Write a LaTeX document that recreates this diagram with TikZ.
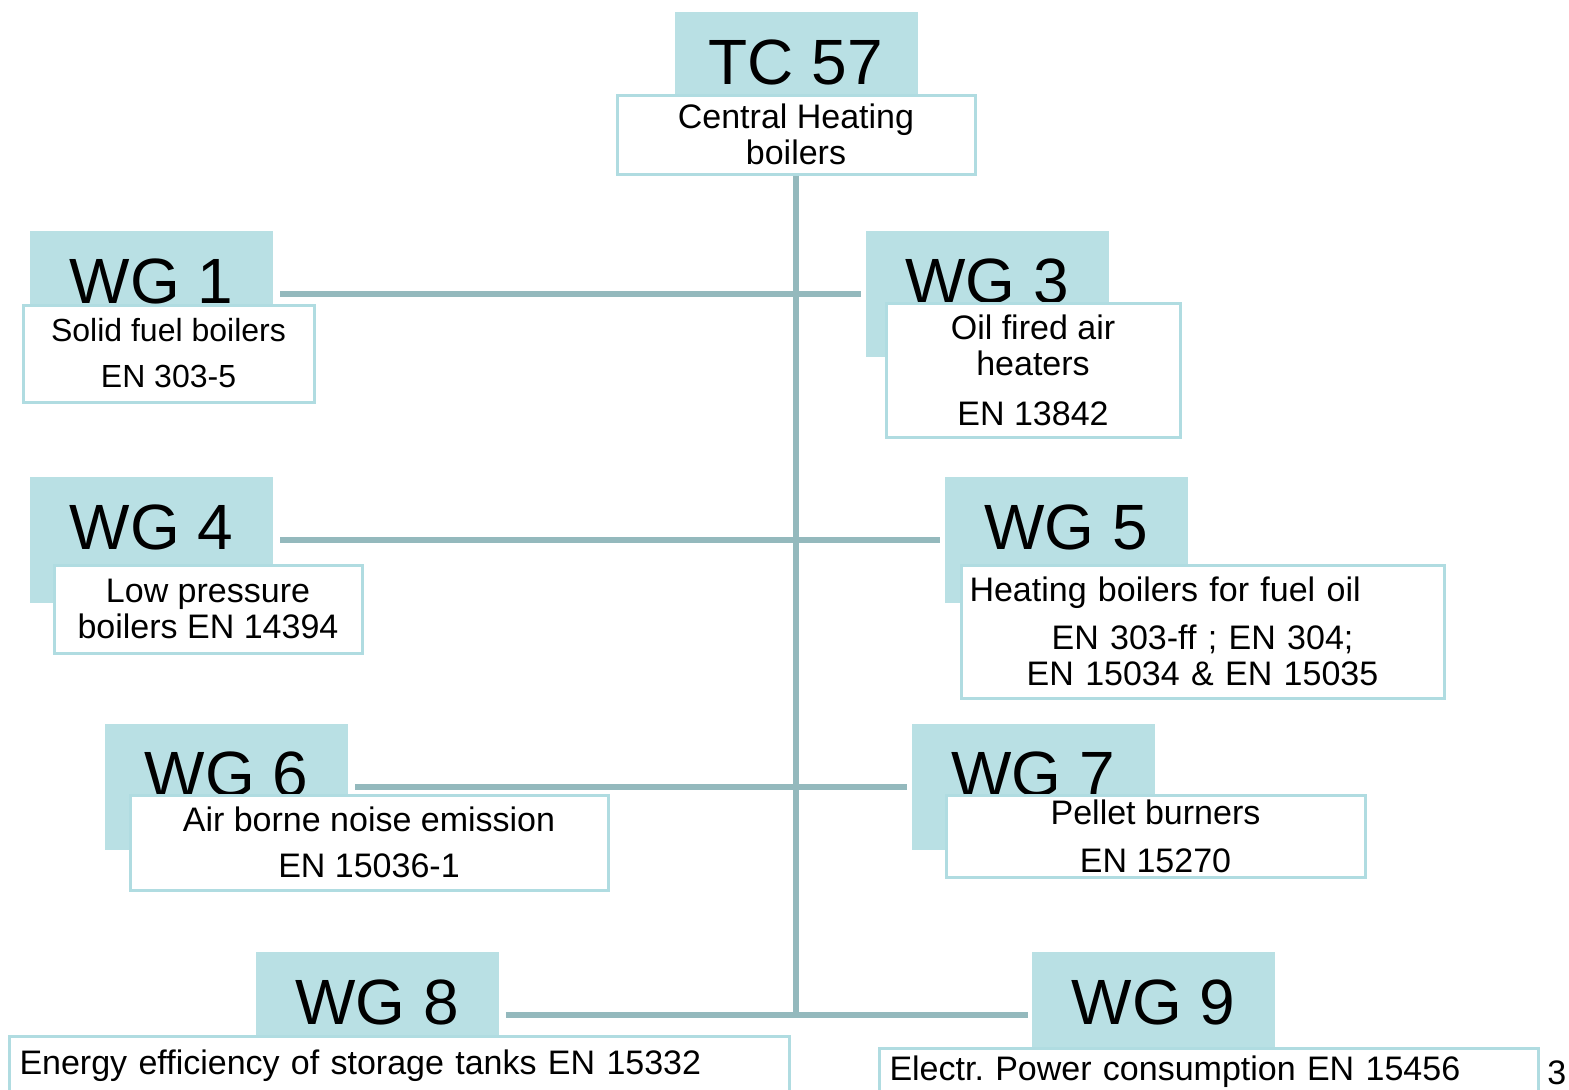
\documentclass[tikz,border=0pt]{standalone}
\usepackage{fontspec}
\setmainfont{Liberation Sans}
\usepackage{xcolor}
\definecolor{headcol}{RGB}{185,224,228}
\definecolor{edgecol}{RGB}{176,220,225}
\definecolor{linkcol}{RGB}{148,185,189}

\begin{document}
\begin{tikzpicture}[x=0.5pt, y=-0.5pt,
    head/.style={fill=headcol, draw=none, minimum width=121.5pt, minimum height=63pt,
      inner sep=0pt, font=\fontsize{32pt}{32pt}\selectfont, text height=23pt, text depth=14pt},
    desc/.style={fill=white, draw=edgecol, line width=1.5pt, inner sep=0pt, align=center,
      font=\fontsize{17pt}{18pt}\selectfont},
    link/.style={draw=linkcol, line width=3pt}]
    \useasboundingbox (0,0) rectangle (1569,1089);
    % committee and working group headers
    \node[head] (tc) at (796,75) {TC 57};
    \foreach \n/\x/\y in {1/151.5/294, 3/987/294, 4/151.5/540, 5/1066/540,
                          6/226.5/787, 7/1033/787, 8/377/1015, 9/1153.5/1015}{
      \node[head] (wg\n) at (\x,\y) {WG \n};
    }
    % white description boxes
    \node[desc, minimum width=179pt, minimum height=39.5pt] (tcd) at (796,134.5)
      {Central Heating\\boilers};
    \node[desc, minimum width=145.5pt, minimum height=48.5pt,
      font=\fontsize{16pt}{18pt}\selectfont] (wg1d) at (168.5,353.5)
      {Solid fuel boilers\\[5pt]EN 303-5};
    \node[desc, minimum width=147pt, minimum height=67pt] (wg3d) at (1033,370)
      {Oil fired air\\heaters\\[7pt]EN 13842};
    \node[desc, minimum width=154pt, minimum height=44pt] (wg4d) at (208,609)
      {Low pressure\\boilers EN 14394};
    \node[desc, minimum width=241.5pt, minimum height=66.5pt, text width=233pt,
      inner xsep=4pt] (wg5d) at (1202.5,631.5)
      {\parindent=0pt\raggedright Heating boilers for fuel oil\par\vspace{6pt}\centering
       EN 303-ff ; EN 304;\par EN 15034 \& EN 15035\par};
    \node[desc, minimum width=239pt, minimum height=47.5pt] (wg6d) at (369,842.5)
      {Air borne noise emission\\[5pt]EN 15036-1};
    \node[desc, minimum width=209.5pt, minimum height=41pt] (wg7d) at (1155.5,836)
      {Pellet burners\\[6pt]EN 15270};
    \node[desc, anchor=north west, minimum width=390pt, text width=380pt, align=left,
      inner xsep=5pt, inner ysep=6pt, text height=13pt, text depth=20pt] (wg8d) at (8,1035)
      {Energy efficiency of storage tanks EN 15332};
    \node[desc, anchor=north west, minimum width=329.5pt, text width=319.5pt, align=left,
      inner xsep=5pt, inner ysep=3pt, text height=13pt, text depth=20pt] (wg9d) at (878,1047)
      {Electr.\ Power consumption EN 15456};
    \node[anchor=base west, inner sep=0pt, font=\fontsize{17pt}{18pt}\selectfont] (pg)
      at (1547,1084) {3};
    % connectors
    \draw[link] (tcd.south) -- (tcd.south |- wg8.east);
    \foreach \a/\b in {1/3, 4/5, 6/7, 8/9}{
      \draw[link, shorten <=3.5pt, shorten >=2pt] (wg\a) -- (wg\b);
    }
\end{tikzpicture}
\end{document}
